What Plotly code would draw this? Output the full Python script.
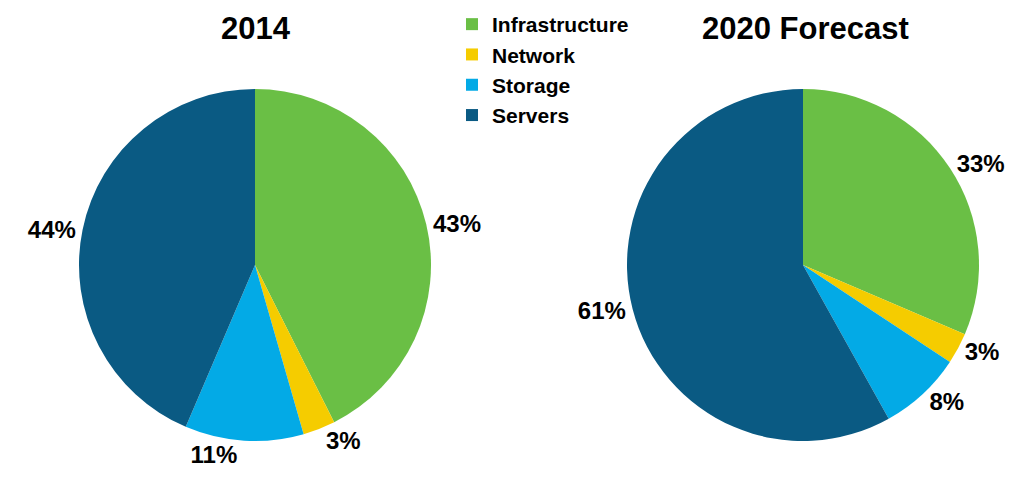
import plotly.graph_objects as go

categories = ["Infrastructure", "Network", "Storage", "Servers"]
values_2014 = [43, 3, 11, 44]
values_2020 = [33, 3, 8, 61]
titles = ["2014", "2020 Forecast"]
colors = ["#6abf45", "#f5cc00", "#03aae6", "#0a5a83"]

W, H = 1029, 478
FONT = "Liberation Sans, Arial, sans-serif"

fig = go.Figure()

def dom_x(cx, r):
    return [(cx - r) / W, (cx + r) / W]

def dom_y(cy, r):
    return [(H - cy - r) / H, (H - cy + r) / H]

for vals, cx, show in [(values_2014, 255, True), (values_2020, 803, False)]:
    fig.add_trace(go.Pie(
        labels=categories, values=vals, sort=False, direction="clockwise", rotation=0,
        marker=dict(colors=colors, line=dict(width=0)),
        textposition="outside", texttemplate="<b>%{value}%</b>",
        textfont=dict(family=FONT, size=24, color="black"),
        domain=dict(x=dom_x(cx, 176), y=dom_y(265, 176)),
        showlegend=show, hoverinfo="label+percent",
    ))

for t, cx in zip(titles, [256, 805]):
    fig.add_annotation(text="<b>%s</b>" % t, x=cx / W, y=1 - 28 / H, xref="paper", yref="paper",
                       showarrow=False, font=dict(family=FONT, size=31, color="black"),
                       xanchor="center", yanchor="middle")

fig.update_layout(
    width=W, height=H, margin=dict(l=0, r=0, t=0, b=0),
    paper_bgcolor="white", plot_bgcolor="white",
    font=dict(family=FONT, color="black"),
    legend=dict(x=452 / W, y=1 - 4 / H, xanchor="left", yanchor="top",
                font=dict(family=FONT, size=21, color="black", weight="bold"),
                itemsizing="constant", tracegroupgap=0, bgcolor="rgba(0,0,0,0)"),
)

fig.write_html("out.html")
